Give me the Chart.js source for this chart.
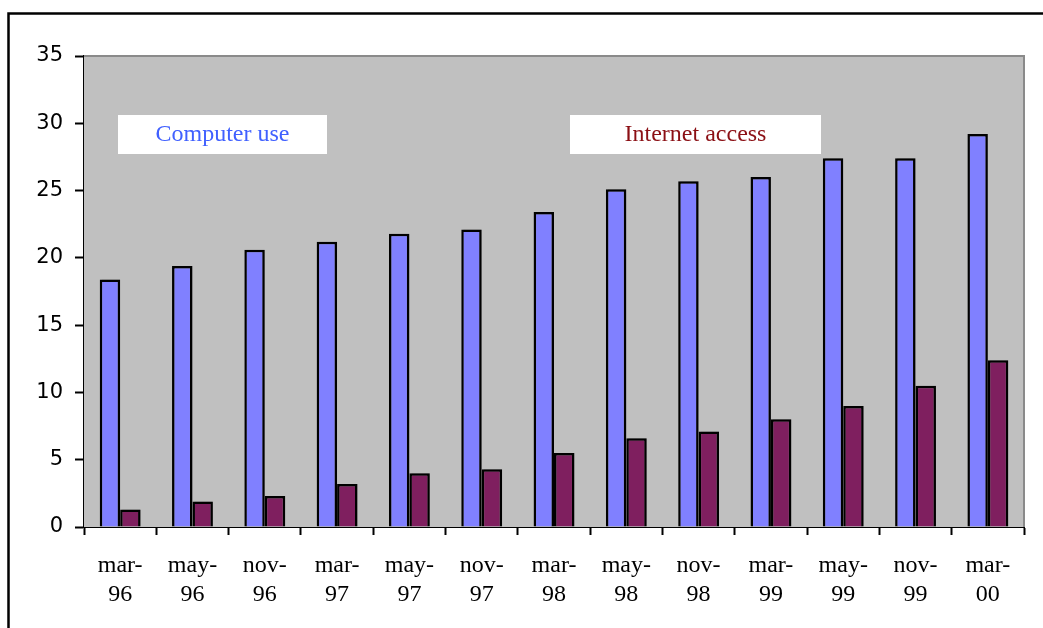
<!DOCTYPE html>
<html>
<head>
<meta charset="utf-8">
<script src="https://cdn.jsdelivr.net/npm/chart.js@4"></script>
<style>
  html, body { margin: 0; padding: 0; background: #fff; }
  #wrap { position: relative; width: 1043px; height: 628px; }
</style>
</head>
<body>
<div id="wrap"><canvas id="chart" width="1043" height="628"></canvas></div>
<script>
// Survey dates (month-year), split over two lines
const categories = [
  ["mar-", "96"], ["may-", "96"], ["nov-", "96"],
  ["mar-", "97"], ["may-", "97"], ["nov-", "97"],
  ["mar-", "98"], ["may-", "98"], ["nov-", "98"],
  ["mar-", "99"], ["may-", "99"], ["nov-", "99"],
  ["mar-", "00"]
];
// Share of population (%)
const computerUse    = [18.4, 19.4, 20.6, 21.2, 21.8, 22.1, 23.4, 25.1, 25.7, 26.0, 27.4, 27.4, 29.2];
const internetAccess = [1.3, 1.9, 2.3, 3.2, 4.0, 4.3, 5.5, 6.6, 7.1, 8.0, 9.0, 10.5, 12.4];
const yTicks = [0, 5, 10, 15, 20, 25, 30, 35];
const seriesNames = ["Computer use", "Internet access"];

// Grey plot background with a thin darker rim, the outer frame, and the two series captions
const decor = {
  id: 'decor',
  beforeDatasetsDraw(chart) {
    const { ctx, chartArea: a } = chart;
    ctx.save();
    ctx.fillStyle = '#c0c0c0';
    ctx.fillRect(a.left, a.top, a.right - a.left, a.bottom - a.top);
    ctx.strokeStyle = '#8a8a8a';
    ctx.lineWidth = 2;
    ctx.beginPath();
    ctx.moveTo(a.left, a.top);
    ctx.lineTo(a.right, a.top);
    ctx.lineTo(a.right, a.bottom);
    ctx.stroke();

    // caption boxes
    const boxes = [
      { text: seriesNames[0], color: '#4060ff', x: a.left + 34, w: 209 },
      { text: seriesNames[1], color: '#8b0f14', x: a.left + 486, w: 251 }
    ];
    ctx.font = '24px "Liberation Serif", "Times New Roman", serif';
    ctx.textAlign = 'center';
    ctx.textBaseline = 'middle';
    boxes.forEach(b => {
      ctx.fillStyle = '#ffffff';
      ctx.fillRect(b.x, a.top + 59, b.w, 39);
      ctx.fillStyle = b.color;
      ctx.fillText(b.text, b.x + b.w / 2, a.top + 79);
    });
    ctx.restore();
  },
  // faint drop shadow to the right of each bar
  beforeDatasetDraw(chart) {
    const ctx = chart.ctx;
    ctx.save();
    ctx.shadowColor = 'rgba(0,0,0,0.22)';
    ctx.shadowOffsetX = 2;
    ctx.shadowOffsetY = 0;
    ctx.shadowBlur = 0;
  },
  afterDatasetDraw(chart) {
    chart.ctx.restore();
  },
  afterDraw(chart) {
    const { ctx, width, height } = chart;
    ctx.save();
    ctx.strokeStyle = '#000';
    ctx.lineWidth = 2.5;
    ctx.beginPath();
    ctx.moveTo(8.5, height);
    ctx.lineTo(8.5, 13.5);
    ctx.lineTo(width, 13.5);
    ctx.stroke();
    ctx.restore();
  }
};

new Chart(document.getElementById('chart'), {
  type: 'bar',
  data: {
    labels: categories,
    datasets: [
      {
        label: seriesNames[0],
        data: computerUse,
        backgroundColor: '#8080ff',
        borderColor: '#000',
        borderWidth: 2.5,
        borderSkipped: 'bottom',
        inflateAmount: 0
      },
      {
        label: seriesNames[1],
        data: internetAccess,
        backgroundColor: '#7f1f5f',
        borderColor: '#000',
        borderWidth: 2.5,
        borderSkipped: 'bottom',
        inflateAmount: 0
      }
    ]
  },
  options: {
    responsive: false,
    animation: false,
    events: [],
    layout: { padding: { left: 0, top: 56, right: 19, bottom: 0 } },
    datasets: { bar: { barPercentage: 1.0, categoryPercentage: 0.565 } },
    plugins: {
      legend: { display: false },
      tooltip: { enabled: false },
      title: { display: false }
    },
    scales: {
      x: {
        grid: {
          display: true,
          drawOnChartArea: false,
          drawTicks: true,
          tickLength: 8,
          tickWidth: 2,
          tickColor: '#000',
          offset: true
        },
        border: { display: true, color: '#000', width: 2 },
        ticks: {
          color: '#000',
          padding: 16,
          maxRotation: 0,
          autoSkip: false,
          font: { family: '"Liberation Serif", "Times New Roman", serif', size: 24, lineHeight: '29px' }
        },
        afterFit(scale) { scale.height = 101; }
      },
      y: {
        min: 0,
        max: 35,
        afterBuildTicks(scale) { scale.ticks = yTicks.map(v => ({ value: v })); },
        grid: {
          display: true,
          drawOnChartArea: false,
          drawTicks: true,
          tickLength: 9,
          tickWidth: 2,
          tickColor: '#000'
        },
        border: { display: true, color: '#000', width: 2 },
        ticks: {
          color: '#000',
          padding: 12,
          font: { family: '"DejaVu Sans", sans-serif', size: 21 }
        },
        afterFit(scale) { scale.width = 84; }
      }
    }
  },
  plugins: [decor]
});
</script>
</body>
</html>
